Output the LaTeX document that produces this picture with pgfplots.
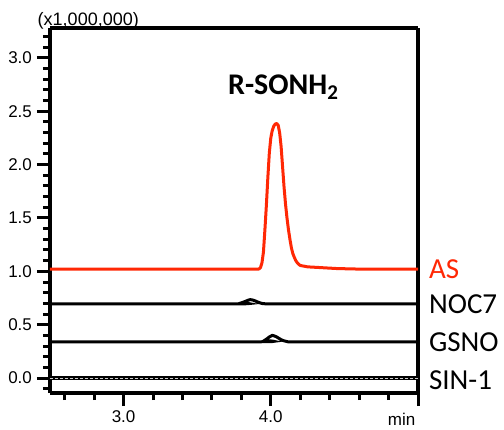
\documentclass[border=0pt]{standalone}
\usepackage{fontspec}
\setmainfont{Liberation Sans}
\newfontfamily\carl{Carlito}
\usepackage{pgfplots}
\pgfplotsset{compat=1.18}
\definecolor{asred}{RGB}{255,40,5}

\begin{document}
\begin{tikzpicture}
\begin{axis}[
  scale only axis, width=368bp, height=365bp,
  xmin=2.5, xmax=5.0, ymin=-0.14, ymax=3.28,
  clip=false,
  line width=3.5bp,
  separate axis lines,
  axis line style={line width=3.5bp, black},
  tick align=outside, tick pos=left,
  xtick={3,4,5}, xticklabels={3.0,4.0,{}},
  minor xtick={2.6,2.8,3.2,3.4,3.6,3.8,4.2,4.4,4.6,4.8},
  ytick={0,0.5,1,1.5,2,2.5,3},
  yticklabels={0.0,0.5,1.0,1.5,2.0,2.5,3.0},
  minor ytick={-0.1,0.1,0.2,0.3,0.4,0.6,0.7,0.8,0.9,1.1,1.2,1.3,1.4,1.6,1.7,1.8,1.9,2.1,2.2,2.3,2.4,2.6,2.7,2.8,2.9,3.1,3.2},
  major tick length=13bp, minor tick length=7bp,
  tick style={black, line width=3bp},
  major tick style={black, line width=3bp},
  minor tick style={black, line width=3bp},
  tick label style={font=\fontsize{17bp}{20bp}\selectfont},
  /pgf/number format/assume math mode=true,
]
% SIN-1
\addplot[black, line width=4bp] coordinates {(2.5,0.0)(5.0,0.0)};
\addplot[gray!40, line width=1.1bp, dash pattern=on 3bp off 2bp] coordinates {(2.5,0.0)(5.0,0.0)};
% GSNO
\addplot[black, line width=3bp, smooth] coordinates {
  (2.5,0.34)(3.92,0.34)(3.96,0.355)(3.99,0.385)(4.01,0.40)(4.04,0.385)(4.07,0.36)(4.11,0.342)(4.2,0.34)(5.0,0.34)};
% NOC7
\addplot[black, line width=3bp, smooth] coordinates {
  (2.5,0.695)(3.76,0.695)(3.80,0.705)(3.83,0.72)(3.86,0.735)(3.89,0.725)(3.93,0.703)(3.97,0.695)(4.1,0.695)(5.0,0.695)};
% AS
\addplot[asred, line width=3bp, line join=round] coordinates {
  (2.5,1.02)(3.90,1.02)(3.92,1.022)(3.93,1.035)(3.94,1.08)(3.95,1.18)(3.96,1.39)
  (3.97,1.62)(3.98,1.88)(3.99,2.11)(4.00,2.25)(4.01,2.32)(4.02,2.36)(4.03,2.38)
  (4.04,2.385)(4.05,2.37)(4.06,2.30)(4.07,2.17)(4.08,1.98)(4.09,1.79)(4.10,1.63)
  (4.11,1.50)(4.12,1.39)(4.13,1.30)(4.14,1.22)(4.15,1.165)(4.16,1.13)(4.17,1.10)
  (4.18,1.08)(4.19,1.065)(4.20,1.055)(4.25,1.042)(4.35,1.034)(4.45,1.026)(4.6,1.021)(5.0,1.02)};
\node[anchor=base, font=\carl\bfseries\fontsize{30bp}{34bp}\selectfont] at (axis cs:4.085,2.655) {R-SONH\textsubscript{2}};
\node[anchor=base, inner sep=0pt, font=\fontsize{18bp}{21bp}\selectfont] at (axis cs:2.76,3.305) {(x1,000,000)};
\node[anchor=west, text=asred, font=\carl\fontsize{29bp}{32bp}\selectfont, xshift=6bp] at (axis cs:5.0,1.02) {AS};
\node[anchor=west, font=\carl\fontsize{29bp}{32bp}\selectfont, xshift=6bp] at (axis cs:5.0,0.695) {NOC7};
\node[anchor=west, font=\carl\fontsize{29bp}{32bp}\selectfont, xshift=6bp] at (axis cs:5.0,0.34) {GSNO};
\node[anchor=west, font=\carl\fontsize{29bp}{32bp}\selectfont, xshift=6bp] at (axis cs:5.0,-0.02) {SIN-1};
\node[anchor=north east, inner sep=0pt, font=\fontsize{17bp}{20bp}\selectfont] at (rel axis cs:1,0) [yshift=-18bp, xshift=-1bp] {min};
\coordinate (bl) at (rel axis cs:0,0);
\coordinate (tr) at (rel axis cs:1,1);
\end{axis}
\pgfresetboundingbox
\path[use as bounding box] ([shift={(-50bp,-37bp)}]bl) rectangle ([shift={(86bp,28bp)}]tr);
\end{tikzpicture}
\end{document}
